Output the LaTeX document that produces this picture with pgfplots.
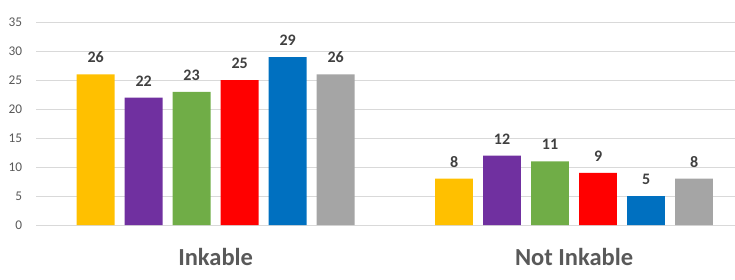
\documentclass[border=0pt]{standalone}
\usepackage{pgfplots}
\pgfplotsset{compat=1.18}
\usepackage{fontspec}
\setmainfont{Carlito}
\definecolor{cYel}{HTML}{FFC000}
\definecolor{cPur}{HTML}{7030A0}
\definecolor{cGre}{HTML}{70AD47}
\definecolor{cRed}{HTML}{FF0000}
\definecolor{cBlu}{HTML}{0070C0}
\definecolor{cGra}{HTML}{A5A5A5}
\definecolor{gridc}{HTML}{D9D9D9}
\definecolor{tickc}{HTML}{595959}
\definecolor{valc}{HTML}{404040}
\begin{document}
\begin{tikzpicture}
\begin{axis}[
  at={(36.4bp,55bp)}, anchor=south west,
  scale only axis, width=698.6bp, height=202.7bp,
  xmin=-0.5, xmax=1.449, ymin=0, ymax=35,
  ytick={0,5,...,35},
  xtick={0,1}, xticklabels={Inkable,Not Inkable},
  axis line style={draw=none},
  major tick length=0pt,
  ymajorgrids, grid style={gridc, line width=0.75bp},
  /pgf/number format/assume math mode=true,
  yticklabel style={font=\fontsize{13.3bp}{15bp}\selectfont, text=tickc, anchor=east, inner sep=0pt, xshift=-14bp},
  xticklabel style={font=\fontsize{24.5bp}{28bp}\selectfont\bfseries, text=tickc, anchor=base, inner sep=0pt, yshift=-40.7bp},
  ybar, bar width=0.1055,
  nodes near coords,
  every node near coord/.append style={font=\fontsize{16bp}{18bp}\selectfont\bfseries, text=valc, anchor=base, inner sep=0pt, yshift=11.5bp},
  clip=false,
]
\addplot[draw=none, fill=cYel, bar shift=-0.3348] coordinates {(0,26) (1,8)};
\addplot[draw=none, fill=cPur, bar shift=-0.2009] coordinates {(0,22) (1,12)};
\addplot[draw=none, fill=cGre, bar shift=-0.0670] coordinates {(0,23) (1,11)};
\addplot[draw=none, fill=cRed, bar shift=0.0670] coordinates {(0,25) (1,9)};
\addplot[draw=none, fill=cBlu, bar shift=0.2009] coordinates {(0,29) (1,5)};
\addplot[draw=none, fill=cGra, bar shift=0.3348] coordinates {(0,26) (1,8)};
\end{axis}
\pgfresetboundingbox
\useasboundingbox (0,0) rectangle (735bp,280bp);
\end{tikzpicture}
\end{document}
